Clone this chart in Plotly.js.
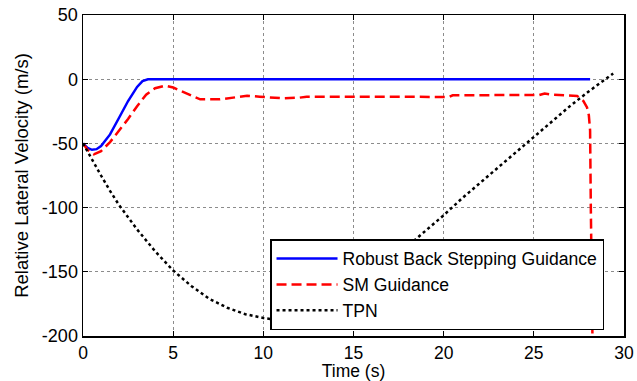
<!DOCTYPE html>
<html>
<head>
<meta charset="utf-8">
<script src="https://cdn.plot.ly/plotly-3.0.1.min.js"></script>
<style>html,body{margin:0;padding:0;background:#fff;}#chart{width:637px;height:381px;}</style>
</head>
<body>
<div id="chart"></div>
<script>
// Robust Back Stepping Guidance
const blueT = [0, 0.25, 0.5, 0.75, 1.0, 1.5, 2.0, 2.5, 3.0, 3.3, 3.6, 28.12];
const blueV = [-50, -53.5, -55, -54.5, -52, -43, -30, -17, -6, -1.5, 0, 0];

// SM Guidance
const redT = [0, 0.25, 0.6, 1.0, 1.5, 2.0, 2.5, 3.0, 3.5, 4.0, 4.55, 5.0, 5.5, 6.0, 6.5, 7.6, 8.3, 9.1, 9.8, 11.1, 12.0, 12.4, 20.3, 20.5, 25.3, 25.6, 26.0, 27.0, 27.4, 27.75, 27.95, 28.05, 28.12, 28.16, 28.2, 28.25];
const redV = [-50, -55, -58.5, -56, -49, -40, -31, -21, -12, -7, -5, -6.5, -9.5, -13, -15.7, -15.7, -14.5, -12.9, -13.6, -14.9, -14.4, -13.6, -13.8, -12.5, -12.3, -11.1, -12, -12.3, -13, -17, -22, -28, -40, -100, -150, -200];

// TPN
const tpnT = [0, 0.5, 1, 1.5, 2, 3, 4, 5, 6, 7, 8, 9, 10, 11, 12, 13, 14, 15, 16, 17, 18, 19, 20, 21, 22, 23, 24, 25, 26, 27, 28, 29, 29.4];
const tpnV = [-50, -63, -75, -87, -98, -117, -134, -149, -161, -171, -178, -183, -186, -188, -188, -185, -178, -168, -156, -143, -130, -118, -106, -93, -81, -69, -57, -45, -33, -21, -10, 0, 4.5];

const xTicks = [0, 5, 10, 15, 20, 25, 30];
const xTickText = ['0', '5', '10', '15', '20', '25', '30'];
const yTicks = [-200, -150, -100, -50, 0, 50];
const yTickText = ['-200', '-150', '-100', '-50', '0', '50'];

const fam = 'Arial, Liberation Sans, sans-serif';
const font = {family: fam, size: 18, color: '#000'};
const xTickFont = {family: fam, size: 17.5, color: '#000'};
const legendFont = {family: fam, size: 17.6, color: '#000'};
const xTitleFont = {family: fam, size: 17.5, color: '#000'};
const yTitleFont = {family: fam, size: 18.5, color: '#000'};

const traces = [
  {x: blueT, y: blueV, type: 'scatter', mode: 'lines', name: 'Robust Back Stepping Guidance',
   line: {color: '#0000ff', width: 2.5}},
  {x: redT, y: redV, type: 'scatter', mode: 'lines', name: 'SM Guidance',
   line: {color: '#ff0000', width: 2.5, dash: '10px,5px'}},
  {x: tpnT, y: tpnV, type: 'scatter', mode: 'lines', name: 'TPN',
   line: {color: '#000000', width: 2.5, dash: 'dot'}}
];

const axisCommon = {
  showline: true, linecolor: '#000', linewidth: 1.5, mirror: 'ticks',
  ticks: 'inside', ticklen: 5, tickcolor: '#000', tickwidth: 1,
  showgrid: true, gridcolor: '#8c8c8c', gridwidth: 1, griddash: 'dot',
  zeroline: false
};

const layout = {
  width: 637, height: 381,
  margin: {l: 83, r: 13, t: 15, b: 45},
  paper_bgcolor: '#fff', plot_bgcolor: '#fff',
  font: font,
  showlegend: true,
  legend: {x: 0.3457, y: 0.302, xanchor: 'left', yanchor: 'top',
           bgcolor: '#fff', bordercolor: '#000', borderwidth: 1.5,
           font: legendFont, itemwidth: 61},
  xaxis: Object.assign({}, axisCommon, {
    range: [0, 30], tickvals: xTicks, ticktext: xTickText, tickfont: xTickFont,
    title: {text: 'Time (s)', font: xTitleFont, standoff: 7}
  }),
  yaxis: Object.assign({}, axisCommon, {
    range: [-200, 50], tickvals: yTicks, ticktext: yTickText, tickfont: font,
    title: {text: 'Relative Lateral Velocity (m/s)', font: yTitleFont, standoff: 8}
  })
};

Plotly.newPlot('chart', traces, layout, {displayModeBar: false, staticPlot: true});
</script>
</body>
</html>
